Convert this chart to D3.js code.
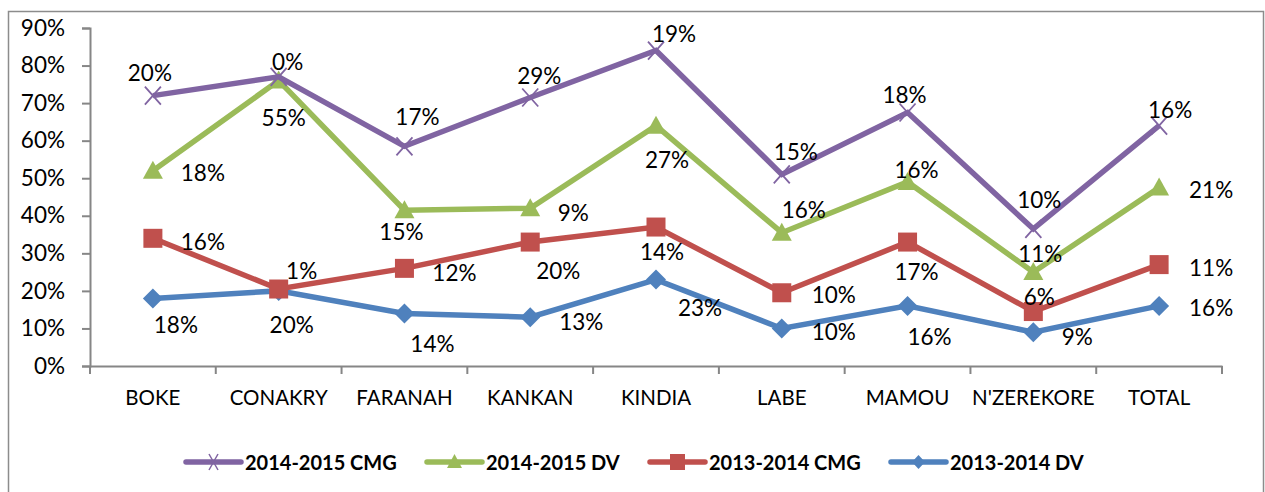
<!DOCTYPE html>
<html>
<head>
<meta charset="utf-8">
<script src="https://cdn.jsdelivr.net/npm/d3@7"></script>
<style>
  html, body { margin: 0; padding: 0; background: #fff; }
  svg { display: block; font-family: Lato, "Open Sans", sans-serif; }
</style>
</head>
<body>
<svg id="chart" width="1265" height="492"></svg>
<script>
// Regions along the x axis
const categories = ["BOKE", "CONAKRY", "FARANAH", "KANKAN", "KINDIA", "LABE", "MAMOU", "N'ZEREKORE", "TOTAL"];

// Rates per region (percent)
const cmg1415 = [72, 77, 58.5, 71.5, 84, 51, 67.5, 36.5, 64];
const dv1415  = [52, 76, 41.5, 42, 64, 35.5, 49, 25, 47.5];
const cmg1314 = [34, 20.5, 26, 33, 37, 19.5, 33, 14.5, 27];
const dv1314  = [18, 20, 14, 13, 23, 10, 16, 9, 16];

// Data label texts shown beside each point
const cmg1415Labels = ["20%", "0%", "17%", "29%", "19%", "15%", "18%", "10%", "16%"];
const dv1415Labels  = ["18%", "55%", "15%", "9%", "27%", "16%", "16%", "11%", "21%"];
const cmg1314Labels = ["16%", "1%", "12%", "20%", "14%", "10%", "17%", "6%", "11%"];
const dv1314Labels  = dv1314.map(v => v + "%");

// Y axis ticks
const yTicks = [0, 10, 20, 30, 40, 50, 60, 70, 80, 90];

// Label placement (pixel offsets from each point), one pair per point
const cmg1415LabelPos = [[-3,-23],[9,-15],[13,-30],[9,-22],[18,-17],[14,-23],[-3,-18],[6,-29],[11,-16]];
const dv1415LabelPos  = [[50,2],[5,37],[-3,21],[43,4],[11,34],[22,-23],[9,-12],[7,-19],[52,2]];
const cmg1314LabelPos = [[50,3],[23,-19],[50,4],[28,28],[6,24],[52,2],[9,29],[6,-15],[52,3]];
const dv1314LabelPos  = [[23,26],[13,34],[28,30],[51,4],[44,28],[52,3],[22,31],[44,4],[52,2]];

const series = [
  { name: "2014-2015 CMG", values: cmg1415, labels: cmg1415Labels, pos: cmg1415LabelPos, color: "#8064A2", marker: "x" },
  { name: "2014-2015 DV",  values: dv1415,  labels: dv1415Labels,  pos: dv1415LabelPos,  color: "#9BBB59", marker: "triangle" },
  { name: "2013-2014 CMG", values: cmg1314, labels: cmg1314Labels, pos: cmg1314LabelPos, color: "#C0504D", marker: "square" },
  { name: "2013-2014 DV",  values: dv1314,  labels: dv1314Labels,  pos: dv1314LabelPos,  color: "#4F81BD", marker: "diamond" }
];

const svg = d3.select("#chart");
const plot = { left: 90, right: 1222, top: 28, bottom: 366 };
const axisColor = "#868686";

// Outer chart frame
svg.append("rect")
  .attr("x", 8.5).attr("y", 11.5)
  .attr("width", 1255).attr("height", 500)
  .attr("fill", "none").attr("stroke", "#8c8c8c").attr("stroke-width", 1.5);

const x = d3.scaleBand().domain(categories).range([plot.left, plot.right]);
const y = d3.scaleLinear().domain([0, 90]).range([plot.bottom, plot.top]);
const cx = c => x(c) + x.bandwidth() / 2;

// Y axis
const yAxis = svg.append("g")
  .attr("transform", `translate(${plot.left},0)`)
  .call(d3.axisLeft(y).tickValues(yTicks).tickSize(8).tickPadding(17).tickFormat(d => d + "%"));
yAxis.select(".domain").attr("stroke", axisColor).attr("stroke-width", 2);
yAxis.selectAll(".tick line").attr("stroke", axisColor).attr("stroke-width", 2);
yAxis.selectAll(".tick text").attr("fill", "#000").style("font-size", "22.5px").style("font-family", "Lato, sans-serif");

// X axis with tick marks on category boundaries
const xAxis = svg.append("g")
  .attr("transform", `translate(0,${plot.bottom})`)
  .call(d3.axisBottom(x).tickSize(0).tickPadding(24));
xAxis.select(".domain").attr("stroke", axisColor).attr("stroke-width", 2);
xAxis.selectAll(".tick text").attr("fill", "#000").style("font-size", "20.5px").style("font-family", "Lato, sans-serif");
const bounds = categories.map(c => x(c)).concat([plot.right]);
xAxis.selectAll(".bound").data(bounds).enter().append("line")
  .attr("class", "bound")
  .attr("x1", d => d).attr("x2", d => d)
  .attr("y1", 0).attr("y2", 8)
  .attr("stroke", axisColor).attr("stroke-width", 2);

// Marker shapes
function drawMarker(g, type, color, px, py) {
  if (type === "square") {
    g.append("rect").attr("x", px - 9.5).attr("y", py - 9.5).attr("width", 19).attr("height", 19).attr("fill", color);
  } else if (type === "diamond") {
    g.append("path").attr("d", `M${px},${py - 10}L${px + 10},${py}L${px},${py + 10}L${px - 10},${py}Z`).attr("fill", color);
  } else if (type === "triangle") {
    g.append("path").attr("d", `M${px},${py - 10}L${px + 10},${py + 8}L${px - 10},${py + 8}Z`).attr("fill", color);
  } else if (type === "x") {
    g.append("path").attr("d", `M${px - 8},${py - 9}L${px + 8},${py + 9}M${px + 8},${py - 9}L${px - 8},${py + 9}`)
      .attr("stroke", color).attr("stroke-width", 1.8).attr("fill", "none");
  }
}

const line = d3.line().x((d, i) => cx(categories[i])).y(d => y(d));

// Draw series from the bottom layer up
[...series].reverse().forEach(s => {
  const g = svg.append("g");
  g.append("path").datum(s.values)
    .attr("d", line)
    .attr("fill", "none").attr("stroke", s.color)
    .attr("stroke-width", 5.5).attr("stroke-linejoin", "miter");
  s.values.forEach((v, i) => drawMarker(g, s.marker, s.color, cx(categories[i]), y(v)));
});

// Data labels
series.forEach(s => {
  svg.append("g").selectAll("text").data(s.values).enter().append("text")
    .attr("x", (v, i) => cx(categories[i]) + s.pos[i][0])
    .attr("y", (v, i) => y(v) + s.pos[i][1])
    .attr("text-anchor", "middle")
    .attr("dominant-baseline", "central")
    .style("font-size", "22.5px")
    .attr("fill", "#000")
    .text((v, i) => s.labels[i]);
});

// Legend
const legendX = [186, 427, 650, 891];
const legend = svg.append("g");
series.forEach((s, i) => {
  const lx = legendX[i], ly = 462;
  legend.append("line")
    .attr("x1", lx).attr("x2", lx + 55).attr("y1", ly).attr("y2", ly)
    .attr("stroke", s.color).attr("stroke-width", 5.5).attr("stroke-linecap", "round");
  const mg = legend.append("g");
  if (s.marker === "x") {
    mg.append("path").attr("d", `M${lx + 23},${ly - 8}L${lx + 32},${ly + 8}M${lx + 32},${ly - 8}L${lx + 23},${ly + 8}`)
      .attr("stroke", s.color).attr("stroke-width", 1.5);
  } else if (s.marker === "triangle") {
    mg.append("path").attr("d", `M${lx + 27.5},${ly - 8}L${lx + 35},${ly + 6}L${lx + 20},${ly + 6}Z`).attr("fill", s.color);
  } else if (s.marker === "square") {
    mg.append("rect").attr("x", lx + 20).attr("y", ly - 8).attr("width", 15).attr("height", 16).attr("fill", s.color);
  } else {
    mg.append("path").attr("d", `M${lx + 27.5},${ly - 7}L${lx + 34},${ly}L${lx + 27.5},${ly + 7}L${lx + 21},${ly}Z`).attr("fill", s.color);
  }
  legend.append("text")
    .attr("x", lx + 59).attr("y", ly)
    .attr("dominant-baseline", "central")
    .style("font-size", "20px").style("font-weight", "bold")
    .attr("fill", "#000")
    .text(s.name);
});
</script>
</body>
</html>
